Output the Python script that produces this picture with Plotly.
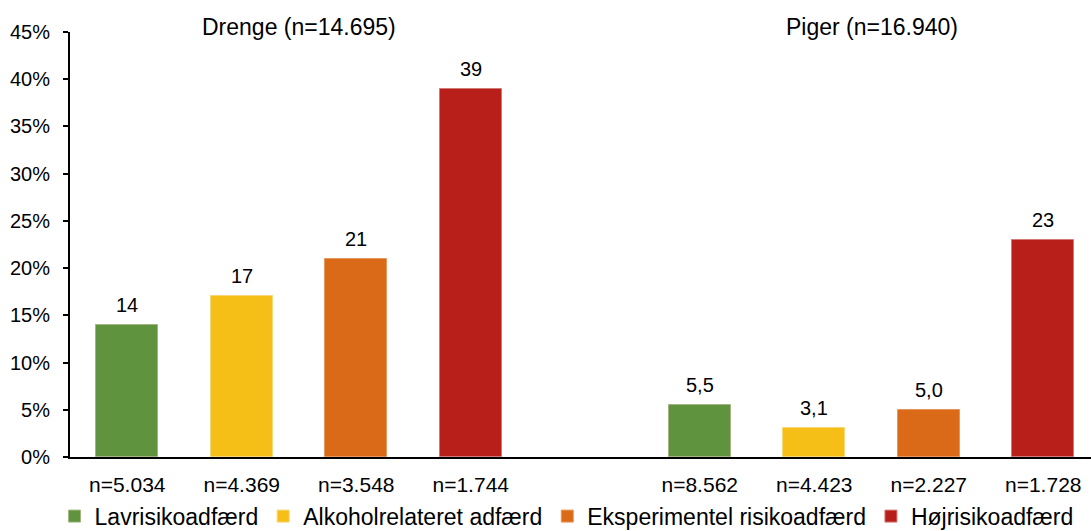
import plotly.graph_objects as go

# Risk-behaviour groups and their colours
categories = ["Lavrisikoadfærd", "Alkoholrelateret adfærd",
              "Eksperimentel risikoadfærd", "Højrisikoadfærd"]
colors = ["#5f933d", "#f5bf17", "#da6a17", "#b81f1b"]
edge_colors = ["#a3b582", "#f7d67a", "#e8975c", "#d47a76"]

# Share (%) per group for boys and girls
boys_pct = [14, 17, 21, 39]
girls_pct = [5.5, 3.1, 5.0, 23]

# Respondents per group
boys_n = ["n=5.034", "n=4.369", "n=3.548", "n=1.744"]
girls_n = ["n=8.562", "n=4.423", "n=2.227", "n=1.728"]

group_titles = ["Drenge (n=14.695)", "Piger (n=16.940)"]

# Slot positions: boys in 0-3, empty slot at 4, girls in 5-8
boys_x = [0, 1, 2, 3]
girls_x = [5, 6, 7, 8]

FONT = "Liberation Sans, Arial, sans-serif"


def fmt(v):
    if float(v).is_integer() and v >= 10:
        return f"{int(v)}"
    return f"{v:.1f}".replace(".", ",")


fig = go.Figure()
for i, name in enumerate(categories):
    fig.add_trace(go.Bar(
        x=[boys_x[i], girls_x[i]],
        y=[boys_pct[i], girls_pct[i]],
        name=name,
        width=0.54,
        marker=dict(color=colors[i], line=dict(color=edge_colors[i], width=1)),
        hoverinfo="skip",
    ))
    for xv, yv in ((boys_x[i], boys_pct[i]), (girls_x[i], girls_pct[i])):
        fig.add_annotation(
            x=xv, y=yv, text=fmt(yv), showarrow=False,
            yanchor="bottom", yshift=7,
            font=dict(family=FONT, size=20, color="#000000"),
        )

for xc, title in zip([1.5, 6.5], group_titles):
    fig.add_annotation(
        x=xc, y=1.012, yref="paper", text=title, showarrow=False,
        yanchor="middle", font=dict(family=FONT, size=23, color="#000000"),
    )

fig.update_layout(
    width=1091, height=531,
    margin=dict(l=70, r=0, t=32, b=74, autoexpand=False),
    paper_bgcolor="#ffffff", plot_bgcolor="#ffffff",
    font=dict(family=FONT, size=20, color="#000000"),
    bargap=0,
    showlegend=True,
    legend=dict(
        orientation="h",
        xref="container", yref="container",
        x=0.05, y=0.028, xanchor="left", yanchor="middle",
        font=dict(family=FONT, size=23, color="#000000"),
        itemwidth=30,
        tracegroupgap=0,
        bgcolor="rgba(0,0,0,0)",
    ),
)

fig.update_xaxes(
    range=[-0.5, 8.417],
    tickvals=boys_x + girls_x,
    ticktext=boys_n + girls_n,
    ticks="", showline=True, linecolor="#000000", linewidth=2,
    showgrid=False, zeroline=False,
    tickfont=dict(family=FONT, size=21, color="#000000"),
    ticklabelstandoff=8,
)

fig.update_yaxes(
    range=[0, 45], dtick=5, ticksuffix="%",
    ticks="outside", ticklen=5, tickwidth=2, tickcolor="#000000",
    showline=True, linecolor="#000000", linewidth=2,
    showgrid=False, zeroline=False,
    tickfont=dict(family=FONT, size=20, color="#000000"),
    ticklabelstandoff=9,
)

fig.write_html("out.html")
